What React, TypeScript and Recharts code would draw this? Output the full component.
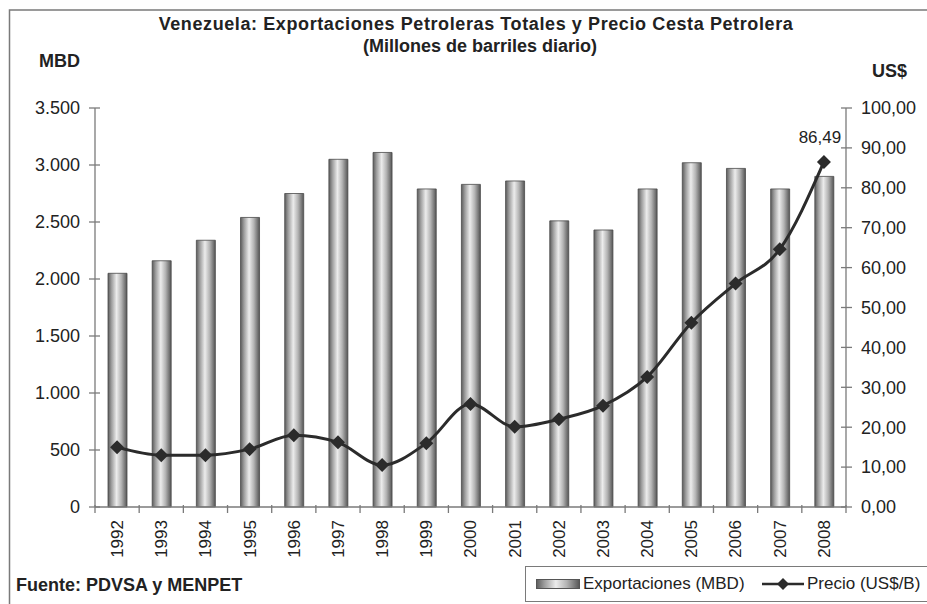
import React from 'react';
import { ComposedChart, Bar, Line, XAxis, YAxis, Legend, LabelList } from 'recharts';

const years = ['1992', '1993', '1994', '1995', '1996', '1997', '1998', '1999', '2000', '2001', '2002', '2003', '2004', '2005', '2006', '2007', '2008'];
const exportaciones = [2050, 2160, 2340, 2540, 2750, 3050, 3110, 2790, 2830, 2860, 2510, 2430, 2790, 3020, 2970, 2790, 2900];
const precio = [15.0, 13.0, 13.0, 14.5, 18.0, 16.2, 10.5, 16.0, 25.8, 20.1, 22.0, 25.4, 32.6, 46.2, 56.0, 64.6, 86.49];
const mbdTicks = [0, 500, 1000, 1500, 2000, 2500, 3000, 3500];
const usdTicks = [0, 10, 20, 30, 40, 50, 60, 70, 80, 90, 100];

const FONT = '"Liberation Sans", Arial, sans-serif';
const AXIS = '#7a7a7a';
const TXT = '#222';
const TICK_FS = 18;

const data = years.map((y, i) => ({ year: y, exp: exportaciones[i], precio: precio[i] }));

const fmtMbd = (v: number) =>
    v >= 1000 ? `${Math.floor(v / 1000)}.${String(v % 1000).padStart(3, '0')}` : String(v);
const fmtUsd = (v: number) => v.toFixed(2).replace('.', ',');

const LeftTick = (p: any) => (
    <g>
        <line x1={p.x - 6} x2={p.x + 5} y1={p.y} y2={p.y} stroke={AXIS} strokeWidth={1.3} />
        <text x={p.x - 15} y={p.y} dy="0.35em" textAnchor="end" fontSize={TICK_FS} fill={TXT} fontFamily={FONT}>
            {fmtMbd(p.payload.value)}
        </text>
    </g>
);

const RightTick = (p: any) => (
    <g>
        <line x1={p.x - 5} x2={p.x + 6} y1={p.y} y2={p.y} stroke={AXIS} strokeWidth={1.3} />
        <text x={p.x + 15} y={p.y} dy="0.35em" textAnchor="start" fontSize={TICK_FS} fill={TXT} fontFamily={FONT}>
            {fmtUsd(p.payload.value)}
        </text>
    </g>
);

const YearTick = (p: any) => {
    const half = p.payload.offset || 22;
    const last = p.index === years.length - 1;
    return (
        <g>
            <line x1={p.x - half} x2={p.x - half} y1={p.y - 2} y2={p.y + 6} stroke={AXIS} strokeWidth={1.3} />
            {last && <line x1={p.x + half} x2={p.x + half} y1={p.y - 2} y2={p.y + 6} stroke={AXIS} strokeWidth={1.3} />}
            <text
                x={p.x}
                y={p.y + 13}
                dy="0.35em"
                textAnchor="end"
                transform={`rotate(-90 ${p.x} ${p.y + 13})`}
                fontSize={17}
                fill={TXT}
                fontFamily={FONT}
            >
                {p.payload.value}
            </text>
        </g>
    );
};

const Diamond = (p: any) => {
    const { cx, cy } = p;
    if (cx == null || cy == null) return null;
    const r = 7;
    return <polygon points={`${cx},${cy - r} ${cx + r},${cy} ${cx},${cy + r} ${cx - r},${cy}`} fill="#2b2b2b" />;
};

const LastLabel = (p: any) => {
    if (p.index !== years.length - 1) return null;
    return (
        <text x={p.x - 4} y={p.y - 19} textAnchor="middle" fontSize={17} fill={TXT} fontFamily={FONT}>
            {fmtUsd(p.value)}
        </text>
    );
};

const LegendBox = () => (
    <div
        style={{
            position: 'relative',
            border: `1.5px solid ${AXIS}`,
            background: '#fff',
            width: 420,
            height: 36,
            fontFamily: FONT,
            fontSize: 17,
            color: TXT,
            boxSizing: 'border-box',
        }}
    >
        <svg width={44} height={10} style={{ position: 'absolute', left: 10, top: 12 }}>
            <rect x={0.5} y={0.5} width={43} height={9} fill="url(#barGrad)" stroke="#555" strokeWidth={1} />
        </svg>
        <span style={{ position: 'absolute', left: 57, top: 7, lineHeight: '20px', whiteSpace: 'nowrap' }}>Exportaciones (MBD)</span>
        <svg width={42} height={16} style={{ position: 'absolute', left: 236, top: 9 }}>
            <line x1={0} x2={42} y1={8} y2={8} stroke="#2b2b2b" strokeWidth={2.5} />
            <polygon points="21,2 27,8 21,14 15,8" fill="#2b2b2b" />
        </svg>
        <span style={{ position: 'absolute', left: 281, top: 7, lineHeight: '20px', whiteSpace: 'nowrap' }}>Precio (US$/B)</span>
    </div>
);

export default function App() {
    return (
        <div style={{ position: 'absolute', left: 0, top: 0, width: 927, height: 604, background: '#fff', overflow: 'hidden' }}>
            <svg width={927} height={604} style={{ position: 'absolute', left: 0, top: 0 }} fontFamily={FONT} fill={TXT} fontWeight="bold">
                <rect x={9.5} y={10} width={940} height={620} fill="none" stroke={AXIS} strokeWidth={1.5} />
                <text x={476} y={29.5} textAnchor="middle" fontSize={18} letterSpacing={0.6}>
                    Venezuela: Exportaciones Petroleras Totales y Precio Cesta Petrolera
                </text>
                <text x={480} y={52} textAnchor="middle" fontSize={18}>
                    (Millones de barriles diario)
                </text>
                <text x={39} y={66.5} fontSize={18}>MBD</text>
                <text x={872} y={77} fontSize={18}>US$</text>
                <text x={16} y={591} fontSize={18}>Fuente: PDVSA y MENPET</text>
            </svg>
            <div style={{ position: 'absolute', left: 0, top: 0 }}>
                <ComposedChart width={927} height={604} data={data} margin={{ top: 108, right: 0, bottom: 0, left: 0 }}>
                    <defs>
                        <linearGradient id="barGrad" x1="0" y1="0" x2="1" y2="0">
                            <stop offset="0%" stopColor="#5c5c5c" />
                            <stop offset="18%" stopColor="#9c9c9c" />
                            <stop offset="45%" stopColor="#ececec" />
                            <stop offset="70%" stopColor="#b4b4b4" />
                            <stop offset="100%" stopColor="#555555" />
                        </linearGradient>
                    </defs>
                    <XAxis
                        dataKey="year"
                        height={97}
                        interval={0}
                        tickSize={0}
                        tickMargin={0}
                        tickLine={false}
                        axisLine={{ stroke: AXIS, strokeWidth: 1.3 }}
                        tick={<YearTick />}
                    />
                    <YAxis
                        yAxisId="mbd"
                        orientation="left"
                        width={95}
                        domain={[0, 3500]}
                        ticks={mbdTicks}
                        interval={0}
                        tickSize={0}
                        tickMargin={0}
                        tickLine={false}
                        axisLine={{ stroke: AXIS, strokeWidth: 1.3 }}
                        tick={<LeftTick />}
                    />
                    <YAxis
                        yAxisId="usd"
                        orientation="right"
                        width={81}
                        domain={[0, 100]}
                        ticks={usdTicks}
                        interval={0}
                        tickSize={0}
                        tickMargin={0}
                        tickLine={false}
                        axisLine={{ stroke: AXIS, strokeWidth: 1.3 }}
                        tick={<RightTick />}
                    />
                    <Legend
                        layout="horizontal"
                        verticalAlign="middle"
                        wrapperStyle={{ left: 525, top: 566, width: 420, height: 36 }}
                        content={<LegendBox />}
                    />
                    <Bar
                        yAxisId="mbd"
                        dataKey="exp"
                        name="Exportaciones (MBD)"
                        barSize={19}
                        fill="url(#barGrad)"
                        stroke="#4a4a4a"
                        strokeWidth={0.8}
                        isAnimationActive={false}
                    />
                    <Line
                        yAxisId="usd"
                        type="monotone"
                        dataKey="precio"
                        name="Precio (US$/B)"
                        stroke="#2b2b2b"
                        strokeWidth={3}
                        dot={<Diamond />}
                        activeDot={false}
                        isAnimationActive={false}
                    >
                        <LabelList dataKey="precio" content={<LastLabel />} />
                    </Line>
                </ComposedChart>
            </div>
        </div>
    );
}
